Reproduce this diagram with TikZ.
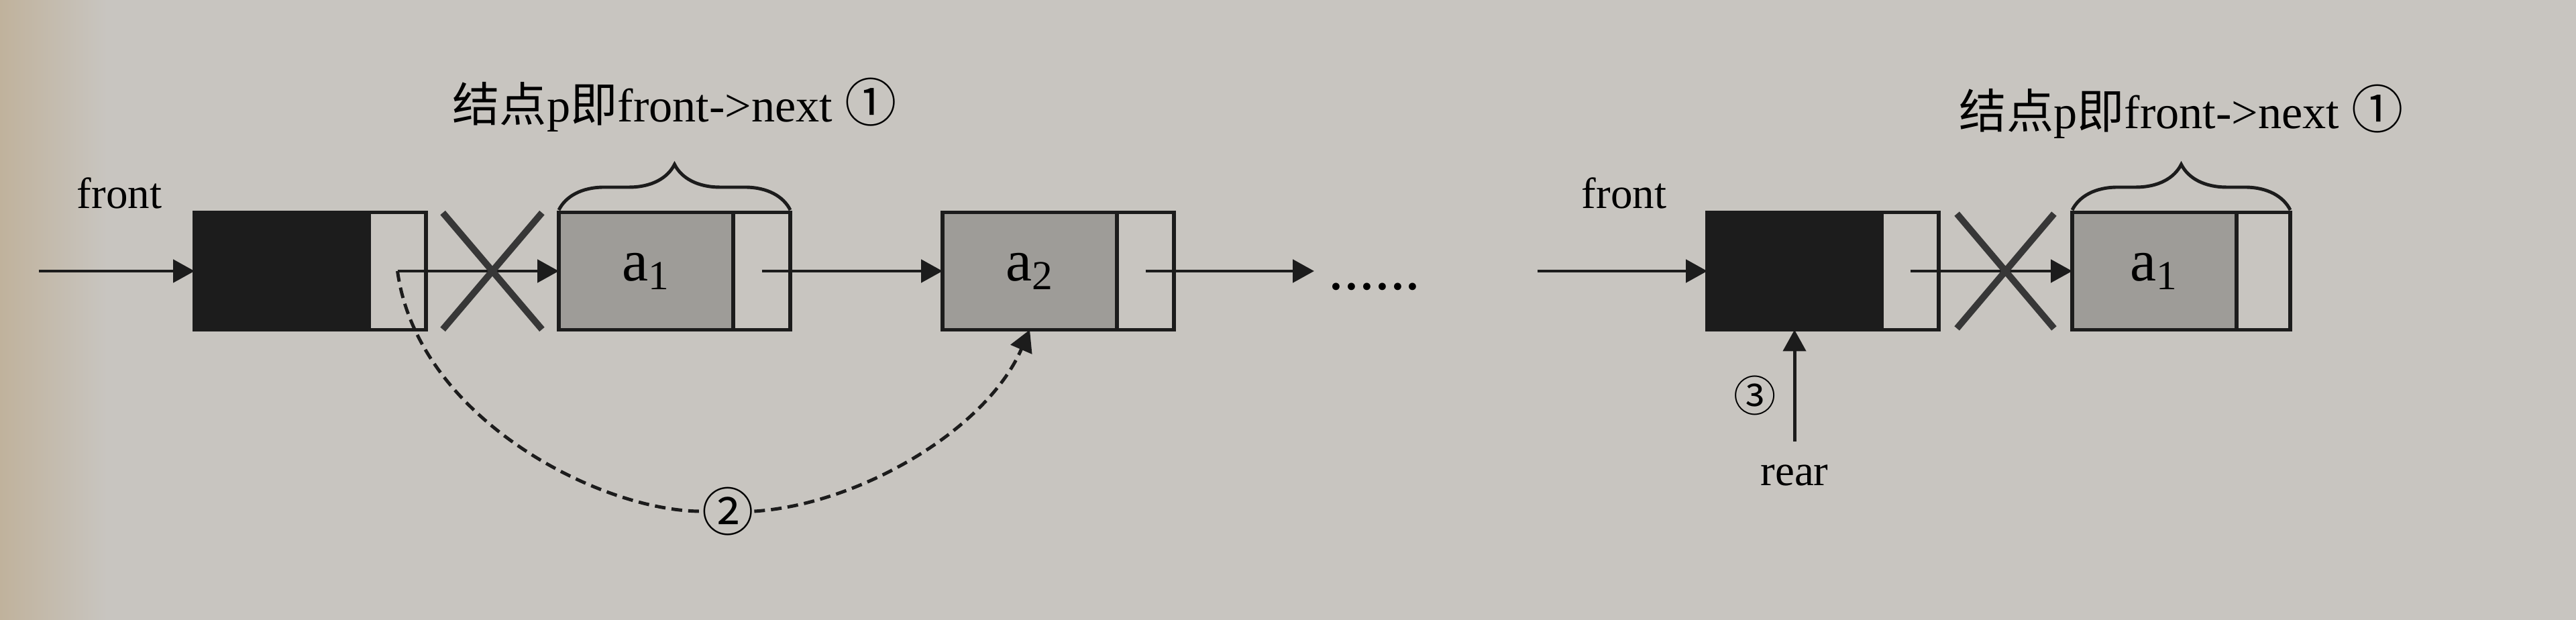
\documentclass[tikz,border=0pt]{standalone}
\usepackage{fontspec}
\setmainfont{Liberation Serif}
\newfontfamily\cjk{Noto Sans CJK SC}
\usepackage{tikz}
\usetikzlibrary{arrows.meta, positioning, calc, shapes.misc, decorations.pathreplacing}

\definecolor{paper}{RGB}{200,197,192}
\definecolor{paperedge}{RGB}{192,178,156}
\definecolor{ink}{RGB}{28,28,28}
\definecolor{cellgray}{RGB}{158,156,152}
\definecolor{crossink}{RGB}{55,55,55}

\begin{document}
\begin{tikzpicture}[
    % List cells
    headfield/.style={rectangle, draw=ink, line width=1.5pt, fill=ink, minimum width=2.6cm, minimum height=1.75cm, inner sep=0pt, outer sep=0pt},
    datafield/.style={headfield, fill=cellgray, font=\fontsize{25}{28}\selectfont},
    ptrfield/.style={rectangle, draw=ink, line width=1.5pt, minimum width=0.85cm, minimum height=1.75cm, inner sep=0pt, outer sep=0pt},
    % Texts
    lbl/.style={font=\fontsize{18.5}{22}\selectfont, inner sep=1pt},
    note/.style={font=\fontsize{20}{24}\selectfont, inner sep=0pt},
    circnum/.style={font=\fontsize{22}{24}\selectfont\cjk, inner sep=0pt},
    % Connectors
    ptr/.style={draw=ink, line width=1.4pt, -{Triangle[length=3.2mm, width=3.4mm]}},
    dashline/.style={draw=ink, line width=1.4pt, dash pattern=on 1.6mm off 0.9mm},
    moved/.style={dashline, -{Triangle[length=3.2mm, width=3.4mm]}},
    cut/.style={cross out, draw=crossink, line width=2.8pt, minimum width=1.38cm, minimum height=1.64cm, inner sep=0pt},
    span/.style={draw=ink, line width=1.4pt, decorate, decoration={brace, amplitude=0.68cm, raise=1pt}}
]
    % Paper
    \fill[paper] (0,0) rectangle (38.4,9.24);
    \shade[left color=paperedge, right color=paper] (0,0) rectangle (1.6,9.24);

    % Left list
    \node[headfield] (head) at (4.2,5.2) {};
    \node[ptrfield, right=0pt of head] (headp) {};
    \node[datafield] (one) at (9.63,5.2) {a\textsubscript{1}};
    \node[ptrfield, right=0pt of one] (onep) {};
    \node[datafield] (two) at (15.35,5.2) {a\textsubscript{2}};
    \node[ptrfield, right=0pt of two] (twop) {};

    \coordinate (fin) at (0.58,5.2);
    \node[lbl, anchor=base] (front) at (1.78,6.13) {front};
    \draw[ptr] (fin) -- (head.west);
    \draw[ptr] (headp.center) -- (one.west);
    \draw[ptr] (onep.center) -- (two.west);
    \coordinate (tail) at (19.59,5.2);
    \draw[ptr] (twop.center) -- (tail);
    \node[font=\fontsize{26}{28}\selectfont, anchor=base west, inner sep=0pt] (more) at (19.8,4.92) {......};

    \node[cut] (cutL) at ($(headp.east)!0.5!(one.west)$) {};

    \draw[span] (one.north west) -- (onep.north east)
        node[note, midway, anchor=base, yshift=1.35cm] (noteL) {{\cjk 结点}p{\cjk 即}front->next {\cjk\fontsize{22}{24}\selectfont ①}};

    % Relink front->next
    \node[circnum] (step2) at (10.85,1.62) {②};
    \draw[dashline] (headp.center) .. controls +(0.3,-2.2) and +(-1.5,0) .. (step2.west);
    \draw[moved] (step2.east) .. controls +(1.55,0.1) and +(-0.65,-1.5) .. (two.south);

    % Right list
    \node[headfield] (rhead) at (26.75,5.2) {};
    \node[ptrfield, right=0pt of rhead] (rheadp) {};
    \node[datafield, minimum width=2.45cm] (rone) at (32.115,5.2) {a\textsubscript{1}};
    \node[ptrfield, right=0pt of rone, minimum width=0.8cm] (ronep) {};

    \coordinate (rfin) at (22.92,5.2);
    \node[lbl, anchor=base] (rfront) at (24.21,6.13) {front};
    \draw[ptr] (rfin) -- (rhead.west);
    \draw[ptr] (rheadp.center) -- (rone.west);
    \node[cut, minimum width=1.35cm, minimum height=1.61cm] (cutR) at ($(rheadp.east)!0.5!(rone.west)$) {};

    \draw[span] (rone.north west) -- (ronep.north east)
        node[note, midway, anchor=base, yshift=1.25cm] (noteR) {{\cjk 结点}p{\cjk 即}front->next {\cjk\fontsize{22}{24}\selectfont ①}};

    % rear back to head
    \coordinate (rtail) at (26.75,2.66);
    \node[lbl, below=0.31cm of rtail] (rear) {rear};
    \draw[ptr] (rtail) -- (rhead.south);
    \node[circnum, font=\fontsize{18}{20}\selectfont\cjk] (step3) at (26.16,3.35) {③};
\end{tikzpicture}
\end{document}
